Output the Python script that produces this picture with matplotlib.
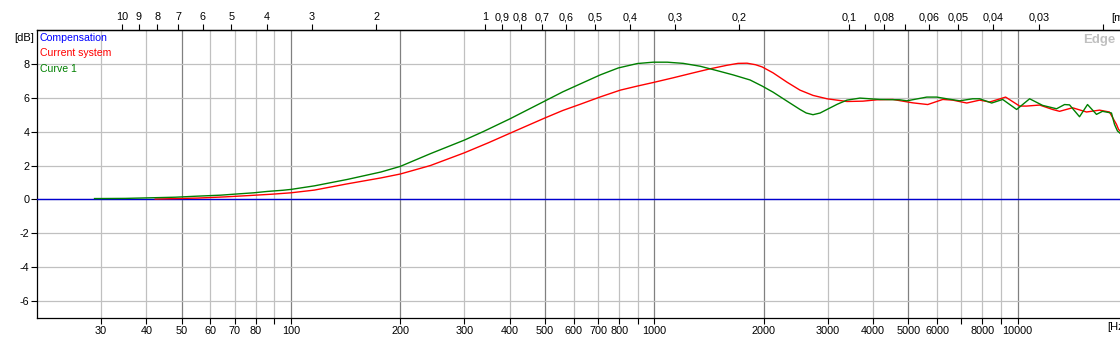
import matplotlib
matplotlib.use("Agg")
import matplotlib.pyplot as plt
from matplotlib.ticker import FixedLocator, NullLocator

plt.rcParams['font.family'] = ['Liberation Sans', 'DejaVu Sans']

# ---- data ----
green_f = [28.8, 35, 42, 48, 55, 64, 72, 79, 86, 95, 100, 116, 143, 177, 200, 242, 300,
           338, 400, 499, 560, 626, 710, 796, 898, 993, 1086, 1201, 1338, 1490, 1648,
           1835, 1981, 2123, 2319, 2518, 2620, 2734, 2860, 2988, 3190, 3390, 3680, 4178,
           4741, 4956, 5623, 5990, 6381, 6929, 7521, 7862, 8484, 9095, 9938, 10790, 11716,
           12797, 13462, 13896, 14804, 15572, 16482, 17123, 18126, 18475, 18826, 19400]
green_db = [0.05, 0.06, 0.10, 0.13, 0.19, 0.25, 0.33, 0.39, 0.47, 0.54, 0.59, 0.80, 1.18,
            1.62, 1.95, 2.70, 3.50, 4.00, 4.75, 5.80, 6.35, 6.82, 7.35, 7.76, 8.02, 8.10,
            8.10, 8.03, 7.86, 7.60, 7.35, 7.05, 6.69, 6.33, 5.80, 5.31, 5.10, 5.00, 5.10,
            5.31, 5.62, 5.86, 5.98, 5.90, 5.88, 5.82, 6.04, 6.04, 5.94, 5.82, 5.94, 5.94,
            5.69, 5.90, 5.31, 5.94, 5.55, 5.35, 5.60, 5.58, 4.88, 5.60, 5.02, 5.20, 5.10,
            4.43, 4.04, 3.80]

red_f = [42.3, 55.5, 66, 77, 89, 100, 116, 143, 177, 200, 242, 300, 350, 410, 499, 560,
         626, 710, 806, 898, 993, 1128, 1280, 1425, 1587, 1700, 1800, 1900, 1981, 2123,
         2319, 2518, 2734, 2988, 3390, 3752, 4099, 4536, 5146, 5657, 6223, 6629, 7244,
         7862, 8378, 9268, 10127, 10585, 11495, 12478, 13045, 14163, 15475, 16803, 17893,
         18710, 18950, 19400]
red_db = [0.02, 0.08, 0.15, 0.23, 0.31, 0.39, 0.55, 0.92, 1.27, 1.50, 2.00, 2.75, 3.35,
          4.00, 4.80, 5.25, 5.62, 6.05, 6.45, 6.69, 6.90, 7.18, 7.47, 7.71, 7.92, 8.03,
          8.04, 7.95, 7.82, 7.47, 6.92, 6.45, 6.14, 5.94, 5.78, 5.80, 5.88, 5.90, 5.70,
          5.60, 5.90, 5.86, 5.69, 5.86, 5.75, 6.04, 5.51, 5.51, 5.57, 5.31, 5.20, 5.41,
          5.16, 5.27, 5.16, 4.43, 4.14, 3.90]

comp_f = [20, 20000]
comp_db = [0, 0]

freq_ticks = [30, 40, 50, 60, 70, 80, 90, 100, 200, 300, 400, 500, 600, 700, 800, 900,
              1000, 2000, 3000, 4000, 5000, 6000, 7000, 8000, 9000, 10000, 20000]
freq_labels = ['30', '40', '50', '60', '70', '80', '', '100', '200', '300', '400', '500',
               '600', '700', '800', '', '1000', '2000', '3000', '4000', '5000', '6000',
               '', '8000', '', '10000', '']
dark_freqs = [50, 100, 200, 500, 1000, 2000, 5000, 10000]

wave_ticks = [10, 9, 8, 7, 6, 5, 4, 3, 2, 1, 0.9, 0.8, 0.7, 0.6, 0.5, 0.4, 0.3, 0.2,
              0.1, 0.09, 0.08, 0.07, 0.06, 0.05, 0.04, 0.03, 0.02]
wave_labels = ['10', '9', '8', '7', '6', '5', '4', '3', '2', '1', '0,9', '0,8', '0,7',
               '0,6', '0,5', '0,4', '0,3', '0,2', '0,1', '', '0,08', '', '0,06', '0,05',
               '0,04', '0,03', '']
db_ticks = [-6, -4, -2, 0, 2, 4, 6, 8]
c_sound = 343.0

# ---- figure ----
W, H = 1120, 340
fig = plt.figure(figsize=(W / 100, H / 100), dpi=100)
fig.patch.set_facecolor('white')
x0, x1, ytop, ybot = 37, 1127, 30, 318
ax = fig.add_axes([x0 / W, 1 - ybot / H, (x1 - x0) / W, (ybot - ytop) / H])
ax.set_xscale('log')
ax.set_xlim(20, 20000)
ax.set_ylim(-7, 10)

# grid
for f in freq_ticks:
    ax.axvline(f, color='#808080' if f in dark_freqs else '#c0c0c0', lw=0.9, zorder=1)
for d in db_ticks:
    ax.axhline(d, color='#c0c0c0', lw=0.9, zorder=1)

ax.plot(comp_f, comp_db, color='#0000d0', lw=1.0, zorder=3)
ax.plot(red_f, red_db, color='#ff0000', lw=1.0, zorder=4)
ax.plot(green_f, green_db, color='#008000', lw=1.0, zorder=5)

for s in ['left', 'bottom', 'top']:
    ax.spines[s].set_color('black')
    ax.spines[s].set_linewidth(0.9)
ax.spines['right'].set_visible(False)

ax.xaxis.set_major_locator(FixedLocator(freq_ticks))
ax.xaxis.set_minor_locator(NullLocator())
ax.set_xticklabels(freq_labels)
ax.set_yticks(db_ticks)
ax.set_yticklabels([str(d) for d in db_ticks])
ax.tick_params(axis='both', direction='out', length=4, width=0.8, labelsize=7.8,
               pad=1.5, colors='black')

# top wavelength axis
axt = ax.twiny()
axt.set_xscale('log')
axt.set_xlim(20, 20000)
axt.xaxis.set_major_locator(FixedLocator([c_sound / w for w in wave_ticks]))
axt.xaxis.set_minor_locator(NullLocator())
axt.set_xticklabels(wave_labels)
axt.tick_params(axis='x', direction='out', length=4, width=0.8, labelsize=7.8, pad=1.5)
for s in ['left', 'bottom', 'right']:
    axt.spines[s].set_visible(False)
axt.spines['top'].set_linewidth(0.9)

# texts
def px(x, y):
    return x / W, 1 - y / H

fig.text(*px(34, 38), '[dB]', ha='right', va='center', fontsize=8)
fig.text(*px(1107, 327), '[Hz]', ha='left', va='center', fontsize=8)
fig.text(*px(1111, 18), '[m]', ha='left', va='center', fontsize=8)
fig.text(*px(40, 38), 'Compensation', color='#0000ff', ha='left', va='center', fontsize=7.6)
fig.text(*px(40, 53), 'Current system', color='#ff0000', ha='left', va='center', fontsize=7.6)
fig.text(*px(40, 69), 'Curve 1', color='#008000', ha='left', va='center', fontsize=7.6)
fig.text(*px(1083, 40), 'Edge', color='#c0c0c0', ha='left', va='center', fontsize=9.5,
         fontweight='bold')

fig.savefig('out.png', dpi=100, facecolor='white')
